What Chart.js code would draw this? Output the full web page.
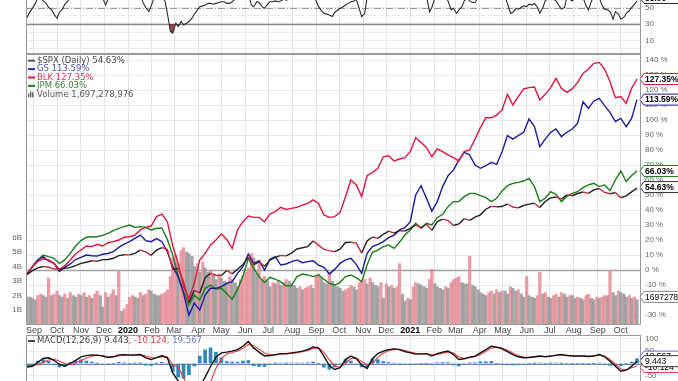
<!DOCTYPE html>
<html><head><meta charset="utf-8">
<script src="https://cdn.jsdelivr.net/npm/chart.js@4.4.1/dist/chart.umd.min.js"></script>
<style>
html,body{margin:0;padding:0;background:#fff;overflow:hidden;}
#wrap{position:relative;width:678px;height:381px;background:#fff;}
canvas{position:absolute;left:0;}
#c1{top:0;} #c2{top:54px;} #c3{top:335px;}
</style></head><body>
<div id="wrap">
<canvas id="c1" width="678" height="54"></canvas>
<canvas id="c2" width="678" height="282"></canvas>
<canvas id="c3" width="678" height="46"></canvas>
</div>
<script>
// ---------- DATA ----------
const monthLabels = ['Sep','Oct','Nov','Dec','2020','Feb','Mar','Apr','May','Jun','Jul','Aug','Sep','Oct','Nov','Dec','2021','Feb','Mar','Apr','May','Jun','Jul','Aug','Sep','Oct'];
const pctTicks = [-30,-20,-10,0,10,20,30,40,50,60,70,80,90,100,110,120,130,140];
const volTicks = [1,2,3,4,5,6];
const rsiTicks = [0,10,20,30,40,50];
const rsiLabels = [10,30,50];
const macdTicks = [-50,0,50,100];

// weekly closes (% change), first point = Fri 23 Aug 2019, then every Friday to 22 Oct 2021
const spx = [-3.1,
 -0.4,1.4,2.3,1.8,0.8,0.4,1.1,1.6,2.9,4.4,
 5.2,6.2,5.8,6.9,7.0,7.8,9.6,10.2,10.1,11.1,
 13.3,12.1,9.8,13.2,15.0,13.6,0.5,1.1,-7.8,-21.6,
 -13.5,-15.3,-5.1,-2.2,-3.5,-3.7,-0.3,-2.6,0.5,3.6,
 8.7,3.5,5.4,2.4,6.5,8.4,9.7,9.4,11.3,14.0,
 14.8,15.6,19.4,16.6,13.7,12.9,12.2,13.9,18.3,18.5,
 17.9,11.3,19.4,22.0,21.1,23.8,25.9,24.6,26.2,26.0,
 27.8,30.1,28.2,30.7,26.4,32.3,33.9,32.9,29.7,30.7,
 34.2,33.1,35.3,36.8,40.5,42.4,42.2,42.3,44.0,42.0,
 41.4,43.0,43.9,44.5,41.7,45.7,48.1,48.7,47.2,50.1,
 49.5,51.0,52.0,51.1,53.4,54.3,51.7,50.8,51.6,48.2,
 49.4,52.1,54.63];
const gs = [-2.7,
 2.2,6.7,8.9,6,4.4,-1,1.8,4,7,8.4,
 10,9.5,9.3,10.5,11,12.2,15.1,17.3,18.9,21.1,
 23.3,19.6,18.9,20.9,18.9,12.2,2.2,-4.4,-15.6,-30,
 -22,-26.7,-16.7,-12.2,-12.2,-11.1,-8.9,-7.8,-2.2,2.2,
 10.7,4.4,6.2,0,7.1,8.9,3.3,4,5.6,6.7,
 4.9,5.6,6.2,3.3,1.8,-2.7,0.4,4.4,6.7,7.8,
 3.8,-2.2,11.1,15.6,17.1,18.9,21.6,23.3,26.7,28.2,
 32.2,50,56.2,47.8,39.3,45.6,55.6,62.9,66.7,73.3,
 78.4,76.7,70,67.8,69.5,71.8,70.4,78.9,89.6,87.3,
 89.6,91.8,100.7,95.6,82.2,87.3,91.8,94,88.9,91.8,
 94,97.8,112.2,107.8,112.7,114.4,109.6,105.1,98.9,101.1,
 95.6,101.1,113.59];
const blk = [-2.7,
 2.2,5.6,7.5,6.7,4.4,0.4,2.7,6.7,10.7,13.3,
 16,15.6,17.1,16,18.2,18.9,20,21.8,22.2,23.3,
 26.7,28.4,29.3,35.6,37.3,32.2,16,4.4,-11.1,-18.9,
 -8.9,6.7,11.1,16.7,20,24,20.4,14.4,26.7,32.2,
 36,35.1,35.1,32.2,37.3,38.9,41.8,40.4,41.1,41.8,
 43.3,44.4,46.7,44.4,36.7,35.1,35.6,38.4,48.9,60,
 56.7,48.9,62.9,65.1,67.8,75.5,76.2,72.7,74,74.9,
 78.9,88.2,85.1,81.5,75.5,80.7,78.9,76.7,74.9,72.7,
 78.9,80,87.3,94.9,101.5,101.5,103.3,106.7,117.1,110,
 115.6,120.7,121.6,122,113.3,117.1,121.6,127.8,121.1,118.4,
 120.7,125.1,131.1,134,137.8,138.4,134,125.5,114.9,115.6,
 111.1,121.1,127.35];
const jpm = [-2.7,
 2.2,6.7,10,8.9,7.8,4.4,6.7,11.1,16,19.6,
 21.8,22.2,22.2,23.1,24.4,26.2,27.8,28.9,30,28.4,
 28.9,28.4,26.7,27.8,27.8,20.4,10,-4,-14.4,-23.3,
 -16.7,-20,-12.2,-10,-12.9,-12.2,-15.6,-19.6,-12.9,-4.4,
 7.8,1.1,-4.4,-8.4,-4.9,-6.2,-7.8,-10.7,-10.4,-4.4,
 -2.7,-3.3,-4.4,-3.3,-6.2,-8.9,-10,-8.2,-4.4,-3.3,
 -5.1,-7.8,3.3,11.8,13.3,15.6,16.7,14.4,18.4,23.3,
 26.7,31.1,27.8,31.1,30,34.9,37.1,42.2,45.6,45.6,
 48.9,51.1,51.1,49.6,48.2,45.6,47.8,52.7,56.2,57.8,
 58.4,59.3,61.1,55.6,45.6,47.8,52.2,50.4,45.6,48.9,
 51.1,52.2,54.9,56.7,57.8,55.6,56.7,53,60,66,
 59,63,66.03];

// volume (billions), first = Fri 23 Aug 2019, then Tuesday & Friday of every week
const volume = [1.9,
 1.9,1.8, 1.7,2.0, 2.1,2.0, 1.9,3.2, 2.0,2.1, 2.3,2.0, 1.9,2.1, 1.8,2.2, 2.0,1.9, 2.1,2.0,
 2.2,1.9, 2.0,1.8, 2.1,2.3, 2.0,1.2, 2.2,1.9, 2.1,2.4, 2.0,3.7, 0.9,1.1, 1.4,1.9, 2.0,1.9,
 1.8,2.2, 2.0,2.1, 2.4,2.3, 2.1,2.0, 2.0,2.1, 2.2,2.4, 3.3,4.6, 4.8,4.2, 5.1,5.3, 5.0,4.9,
 4.7,4.0, 4.2,3.6, 4.3,3.9, 3.6,3.7, 3.4,3.1, 3.5,3.2, 3.0,2.9, 3.3,3.1, 2.9,2.6, 3.1,3.4,
 3.6,3.9, 4.9,4.6, 3.5,4.4, 3.1,3.3, 3.0,2.6, 2.9,2.8, 3.0,2.7, 2.9,3.1, 3.0,2.8, 2.7,2.5,
 2.6,2.4, 2.5,2.6, 2.7,2.5, 3.3,3.5, 3.2,2.9, 2.8,3.6, 3.0,2.7, 2.6,2.5, 2.3,2.4, 2.5,2.7,
 2.6,2.4, 2.9,3.0, 3.1,2.8, 3.2,2.9, 2.7,2.6, 2.9,1.8, 2.8,2.6, 2.7,2.5, 2.6,4.2, 2.1,1.6,
 1.8,1.7, 2.6,2.9, 2.8,2.7, 2.6,2.5, 3.1,3.8, 2.8,2.6, 2.5,2.4, 2.6,2.5, 2.9,3.1, 3.2,3.3,
 2.9,2.8, 2.8,4.7, 2.7,2.6, 2.4,2.2, 2.1,2.0, 2.2,2.3, 2.1,2.4, 2.2,2.3, 2.3,2.1, 2.6,2.5,
 2.3,2.4, 2.1,1.9, 3.3,2.0, 1.9,1.8, 2.0,3.6, 2.1,2.2, 1.9,1.8, 2.0,2.1, 1.9,2.2, 2.1,1.9,
 2.0,2.0, 1.8,1.9, 1.8,1.7, 2.0,2.1, 1.8,1.7, 1.9,1.8, 1.9,2.0, 2.0,3.7, 2.2,2.0, 2.3,2.2,
 2.1,1.9, 2.0,1.8, 1.9,1.697];
const volumeLast = 1697278976;

// RSI(14) of $SPX, same sessions as volume
const rsi = [38,
 45,49, 55,62, 62,58, 55,50, 47,42, 37,44, 48,54, 58,62, 65,66, 68,70,
 72,70, 70,72, 66,64, 66,62, 53,60, 64,66, 70,74, 72,74, 68,64, 66,68,
 70,64, 55,50, 45,52, 62,66, 64,62, 58,43, 21,19, 31,27, 33,29, 31,33,
 37,42, 47,51, 52,53, 55,55, 54,55, 56,57, 57,55, 55,57, 60,62, 64,66,
 70,68, 53,51, 57,56, 51,49, 54,57, 57,58, 57,58, 60,59, 60,63, 66,68,
 64,66, 68,64, 70,66, 58,51, 46,43, 42,41, 39,44, 47,49, 51,53, 55,57,
 58,60, 48,39, 43,62, 66,68, 65,64, 66,68, 70,68, 66,64, 67,66, 65,64,
 66,68, 70,68, 64,62, 66,64, 45,50, 62,66, 68,70, 62,58, 47,49, 43,47,
 51,58, 62,58, 56,56, 62,66, 70,72, 74,72, 66,68, 66,64, 62,55, 43,44,
 49,48, 50,52, 51,54, 53,55, 50,43, 50,58, 62,64, 60,58, 52,48, 50,62,
 60,58, 62,60, 64,62, 52,47, 58,62, 64,62, 52,48, 47,45, 36,45, 42,36,
 38,43, 46,50, 54,58];

// MACD(12,26,9) weekly, same dates as the price series
const macd = [-14,
 -11,5,20,23,13,-4,-11,0,13,27,
 32,35,34,30,24,27,35,36,34,35,
 36,23,16,24,32,23,-38,-70,-115,-150,
 -130,-95,-55,-12,25,43,46,50,56,70,
 89,63,46,30,32,36,40,40,43,46,
 50,56,67,63,30,-8,-24,-17,16,30,
 20,-6,-20,19,40,50,56,59,56,48,
 43,38,39,40,30,40,46,50,36,16,
 19,26,30,43,56,70,66,59,48,36,
 27,23,24,27,30,27,30,34,36,32,
 30,30,30,28,30,36,27,9,-11,-31,
 -27,-11,9.443];
const macdSignal = [-8,
 -8,-5,5,14,17,10,0,-4,2,12,
 22,29,33,32,28,27,30,33,34,34,
 35,30,24,23,27,26,-5,-15,-55,-105,
 -120,-125,-110,-75,-20,20,38,44,51,60,
 77,72,58,42,35,35,38,39,41,44,
 48,53,61,63,45,15,-10,-15,0,20,
 22,8,-6,0,25,42,52,57,57,52,
 46,41,39,40,35,37,42,47,42,26,
 21,23,27,36,49,62,66,62,53,42,
 32,26,25,26,28,28,29,32,35,33,
 31,30,30,29,30,34,30,16,-3,-22,
 -26,-17,-10.124];
const macdHist = [-6,
 -3,10,15,9,-4,-14,-11,4,11,15,
 10,6,1,-2,-4,0,5,3,0,1,
 1,-7,-8,1,5,-3,-33,-55,-60,-45,
 -10,30,55,63,45,23,8,6,5,10,
 12,-9,-12,-12,-3,1,2,1,2,2,
 2,3,6,0,-15,-23,-14,-2,16,10,
 -2,-14,-14,19,15,8,4,2,-1,-4,
 -3,-3,0,0,-5,3,4,3,-6,-10,
 -2,3,3,7,7,8,0,-3,-5,-6,
 -5,-3,-1,1,2,-1,1,2,1,-1,
 -1,0,0,-1,0,2,-3,-7,-8,-9,
 -1,6,19.567];

// ---------- DATES / POSITIONS ----------
const BASE = new Date(2019, 7, 26);
const DAY = 86400000;
const dayOf = d => Math.round((d - BASE) / DAY);
const monthTicks = monthLabels.map((_, i) => dayOf(new Date(2019, 8 + i, 1)));
const weekDays = spx.map((_, i) => -3 + 7 * i);
const sessDays = volume.map((_, i) => i === 0 ? -3 : 7 * Math.floor((i - 1) / 2) + ((i - 1) % 2 ? 4 : 1));
const X_MIN = -4.28, X_MAX = 793.2;

const pts = (arr, xs) => arr.map((v, i) => ({x: xs[i], y: v}));

Chart.defaults.font.family = "'Liberation Sans', Arial, sans-serif";
Chart.defaults.font.size = 8.5;
Chart.defaults.color = '#555';
Chart.defaults.animation = false;
Chart.defaults.plugins.legend.display = false;
Chart.defaults.plugins.tooltip.enabled = false;

const isYear = i => /^\d{4}$/.test(monthLabels[i] || '');
function xAxis(show) {
  return {
    type: 'linear', min: X_MIN, max: X_MAX, offset: false,
    afterBuildTicks: s => { s.ticks = monthTicks.map(v => ({value: v})); },
    grid: {color: '#e3e3e3', lineWidth: 1, drawTicks: false, offset: false},
    border: {display: false},
    ticks: {
      display: show, autoSkip: false, maxRotation: 0, minRotation: 0, padding: 1,
      callback: (v, i) => monthLabels[i],
      font: c => ({family: "'Liberation Sans', Arial, sans-serif", size: 9, weight: isYear(c.index) ? 'bold' : 'normal'}),
      color: c => isYear(c.index) ? '#000' : '#444'
    },
    afterFit: s => { s.height = show ? 11.5 : 0; s.paddingLeft = 0; s.paddingRight = 0; }
  };
}
function rightAxis(min, max, ticks, cb, gridColor) {
  return {
    position: 'right', min, max,
    afterBuildTicks: s => { s.ticks = ticks.map(v => ({value: v})); },
    ticks: {callback: cb, padding: 4, color: '#666', font: {size: 8}, autoSkip: false},
    grid: {color: gridColor, drawTicks: false},
    border: {display: false},
    afterFit: s => { s.width = 37; s.paddingTop = 0; s.paddingBottom = 0; }
  };
}
function framePlugin(sides) {
  return {id: 'frame', afterDraw(chart) {
    const {ctx, chartArea: a} = chart;
    ctx.save(); ctx.strokeStyle = '#9a9a9a'; ctx.lineWidth = 1; ctx.beginPath();
    const L = Math.round(a.left) + 0.5, R = Math.round(a.right) - 0.5, T = Math.round(a.top) + 0.5, B = Math.round(a.bottom) - 0.5;
    if (sides.includes('l')) { ctx.moveTo(L, a.top); ctx.lineTo(L, a.bottom); }
    if (sides.includes('r')) { ctx.moveTo(R, a.top); ctx.lineTo(R, a.bottom); }
    if (sides.includes('t')) { ctx.moveTo(a.left, T); ctx.lineTo(a.right, T); }
    if (sides.includes('b')) { ctx.moveTo(a.left, B); ctx.lineTo(a.right, B); }
    ctx.stroke(); ctx.restore();
  }};
}
function drawTag(ctx, x, y, text, border, bold) {
  const h = 11;
  ctx.save();
  ctx.beginPath();
  ctx.moveTo(x, y); ctx.lineTo(x + 4, y - h / 2); ctx.lineTo(x + 46, y - h / 2);
  ctx.lineTo(x + 46, y + h / 2); ctx.lineTo(x + 4, y + h / 2); ctx.closePath();
  ctx.fillStyle = '#fff'; ctx.fill();
  ctx.strokeStyle = border; ctx.lineWidth = 1; ctx.stroke();
  ctx.fillStyle = '#000'; ctx.font = (bold ? 'bold ' : '') + "8.5px 'Liberation Sans', Arial, sans-serif";
  ctx.textBaseline = 'middle'; ctx.fillText(text, x + 5, y + 0.5);
  ctx.restore();
}

// ---------- RSI PANEL ----------
new Chart(document.getElementById('c1'), {
  type: 'line',
  data: {datasets: [{
    data: pts(rsi, sessDays), borderColor: '#2a2a2a', borderWidth: 1.1, pointRadius: 0,
    fill: {target: {value: 30}, above: 'rgba(0,0,0,0)', below: 'rgba(130,40,45,0.85)'}
  }]},
  options: {
    responsive: false, layout: {padding: {left: 26, top: 0, right: 0, bottom: 0}},
    scales: {
      x: xAxis(false),
      y: rightAxis(-6.4, 59.1, rsiTicks, v => rsiLabels.includes(v) ? String(v) : '', '#ececec')
    }
  },
  plugins: [{id: 'rsiLines', beforeDatasetsDraw(chart) {
    const {ctx, chartArea: a, scales: {y}} = chart;
    ctx.save();
    ctx.strokeStyle = '#999'; ctx.lineWidth = 1;
    ctx.setLineDash([7, 2, 1, 2]);
    let p = Math.round(y.getPixelForValue(50)) + 0.5;
    ctx.beginPath(); ctx.moveTo(a.left, p); ctx.lineTo(a.right, p); ctx.stroke();
    ctx.setLineDash([]); ctx.strokeStyle = '#8a8a8a'; ctx.lineWidth = 1.3;
    p = Math.round(y.getPixelForValue(30)) + 0.5;
    ctx.beginPath(); ctx.moveTo(a.left, p); ctx.lineTo(a.right, p); ctx.stroke();
    ctx.restore();
  }, afterDraw(chart) {
    const y = chart.scales.y.getPixelForValue(rsi[rsi.length - 1]) - 3;
    drawTag(chart.ctx, 640, y, rsi[rsi.length - 1].toFixed(2), '#222', true);
  }}, framePlugin('lrb')]
});

// ---------- MAIN PANEL ----------
const volColors = volume.map((v, i) => (i > 0 && v > volume[i - 1]) ? 'rgba(232,140,150,0.85)' : 'rgba(150,150,150,0.85)');
const legendItems = [
  {label: `$SPX (Daily) ${spx[spx.length - 1].toFixed(2)}%`, line: '#555', text: '#444'},
  {label: `GS ${gs[gs.length - 1].toFixed(2)}%`, line: '#3030a8', text: '#5050a8'},
  {label: `BLK ${blk[blk.length - 1].toFixed(2)}%`, line: '#e0143c', text: '#d03a5c'},
  {label: `JPM ${jpm[jpm.length - 1].toFixed(2)}%`, line: '#1a7d1a', text: '#3c7c3c'},
  {label: `Volume ${volumeLast.toLocaleString('en-US')}`, icon: 'bars', text: '#555'}
];
const lineDs = (arr, color, order) => ({
  data: pts(arr, weekDays), borderColor: color, borderWidth: 1.4, pointRadius: 0, tension: 0, order, yAxisID: 'y'
});
new Chart(document.getElementById('c2'), {
  type: 'line',
  data: {datasets: [
    {type: 'bar', data: pts(volume, sessDays), backgroundColor: volColors, barThickness: 2.6, yAxisID: 'yv', order: 10},
    lineDs(jpm, '#1a7d1a', 4),
    lineDs(gs, '#1c1ca0', 3),
    lineDs(blk, '#e0143c', 2),
    Object.assign(lineDs(spx, '#222', 1), {segment: {borderColor: c => c.p1.parsed.y < c.p0.parsed.y ? '#c8283c' : '#222'}})
  ]},
  options: {
    responsive: false, layout: {padding: 0},
    scales: {
      x: xAxis(true),
      y: rightAxis(-36.33, 144, pctTicks, v => v + ' %', '#e9e9e9'),
      yv: {
        position: 'left', min: 0, max: 18.66,
        afterBuildTicks: s => { s.ticks = volTicks.map(v => ({value: v})); },
        ticks: {callback: v => v + 'B', padding: 4, color: '#666', font: {size: 8}, autoSkip: false},
        grid: {drawOnChartArea: false, drawTicks: false},
        border: {display: false},
        afterFit: s => { s.width = 26; s.paddingTop = 0; s.paddingBottom = 0; }
      }
    }
  },
  plugins: [{id: 'zero', beforeDatasetsDraw(chart) {
    const {ctx, chartArea: a, scales: {y}} = chart;
    const p = Math.round(y.getPixelForValue(0)) + 0.5;
    ctx.save(); ctx.strokeStyle = '#a0a0a0'; ctx.lineWidth = 1.3;
    ctx.beginPath(); ctx.moveTo(a.left, p); ctx.lineTo(a.right, p); ctx.stroke(); ctx.restore();
  }, afterDraw(chart) {
    const {ctx, scales: {y, yv}} = chart;
    ctx.save();
    ctx.font = "8.5px 'DejaVu Sans', sans-serif"; ctx.textBaseline = 'middle';
    legendItems.forEach((it, i) => {
      const yy = 6.7 + i * 8.4;
      if (it.icon === 'bars') {
        ctx.fillStyle = '#666';
        [[0, 4], [2, 6], [4, 5]].forEach(([dx, h]) => ctx.fillRect(28 + dx, yy + 3 - h, 1.4, h));
      } else {
        ctx.strokeStyle = it.line; ctx.lineWidth = 2;
        ctx.beginPath(); ctx.moveTo(28, yy); ctx.lineTo(35, yy); ctx.stroke();
      }
      ctx.fillStyle = it.text; ctx.fillText(it.label, 37, yy);
    });
    ctx.restore();
    drawTag(ctx, 640, yv.getPixelForValue(volumeLast / 1e9) - 3, String(volumeLast), '#888', false);
    drawTag(ctx, 640, y.getPixelForValue(blk[blk.length - 1]), blk[blk.length - 1].toFixed(2) + '%', '#e0143c', true);
    drawTag(ctx, 640, y.getPixelForValue(gs[gs.length - 1]), gs[gs.length - 1].toFixed(2) + '%', '#1c1ca0', true);
    drawTag(ctx, 640, y.getPixelForValue(jpm[jpm.length - 1]), jpm[jpm.length - 1].toFixed(2) + '%', '#1a7d1a', true);
    drawTag(ctx, 640, y.getPixelForValue(spx[spx.length - 1]) - 1, spx[spx.length - 1].toFixed(2) + '%', '#333', true);
  }}, framePlugin('lrtb')]
});

// ---------- MACD PANEL ----------
new Chart(document.getElementById('c3'), {
  type: 'line',
  data: {datasets: [
    {type: 'bar', data: pts(macdHist, weekDays), backgroundColor: '#2e88b8', barThickness: 3, order: 3},
    {data: pts(macdSignal, weekDays), borderColor: '#f03a3a', borderWidth: 1.1, pointRadius: 0, order: 2},
    {data: pts(macd, weekDays), borderColor: '#111', borderWidth: 1.4, pointRadius: 0, order: 1}
  ]},
  options: {
    responsive: false, layout: {padding: {left: 26, top: 0, right: 0, bottom: 0}},
    scales: {
      x: xAxis(false),
      y: rightAxis(-70.6, 115, macdTicks, v => String(v), '#ececec')
    }
  },
  plugins: [{id: 'macdExtra', beforeDatasetsDraw(chart) {
    const {ctx, chartArea: a, scales: {y}} = chart;
    const p = Math.round(y.getPixelForValue(0)) + 0.5;
    ctx.save(); ctx.strokeStyle = '#7080c0'; ctx.lineWidth = 1;
    ctx.beginPath(); ctx.moveTo(a.left, p); ctx.lineTo(a.right, p); ctx.stroke(); ctx.restore();
  }, afterDraw(chart) {
    const {ctx, scales: {y}} = chart;
    ctx.save();
    ctx.font = "8.5px 'DejaVu Sans', sans-serif"; ctx.textBaseline = 'middle';
    const yy = 6;
    ctx.strokeStyle = '#444'; ctx.lineWidth = 2;
    ctx.beginPath(); ctx.moveTo(28, yy); ctx.lineTo(35, yy); ctx.stroke();
    const parts = [
      [`MACD(12,26,9) ${macd[macd.length - 1]}`, '#444'],
      [`, ${macdSignal[macdSignal.length - 1]}`, '#e03a4a'],
      [`, ${macdHist[macdHist.length - 1]}`, '#6a80c8']
    ];
    let x = 37;
    parts.forEach(([t, c]) => { ctx.fillStyle = c; ctx.fillText(t, x, yy); x += ctx.measureText(t).width; });
    ctx.restore();
    drawTag(ctx, 640, y.getPixelForValue(macdHist[macdHist.length - 1]) - 2, String(macdHist[macdHist.length - 1]), '#6a6ad0', false);
    drawTag(ctx, 640, y.getPixelForValue(macdSignal[macdSignal.length - 1]) + 1, String(macdSignal[macdSignal.length - 1]), '#e04050', false);
    drawTag(ctx, 640, y.getPixelForValue(macd[macd.length - 1]), String(macd[macd.length - 1]), '#333', false);
  }}, framePlugin('lrt')]
});
</script>
</body></html>
